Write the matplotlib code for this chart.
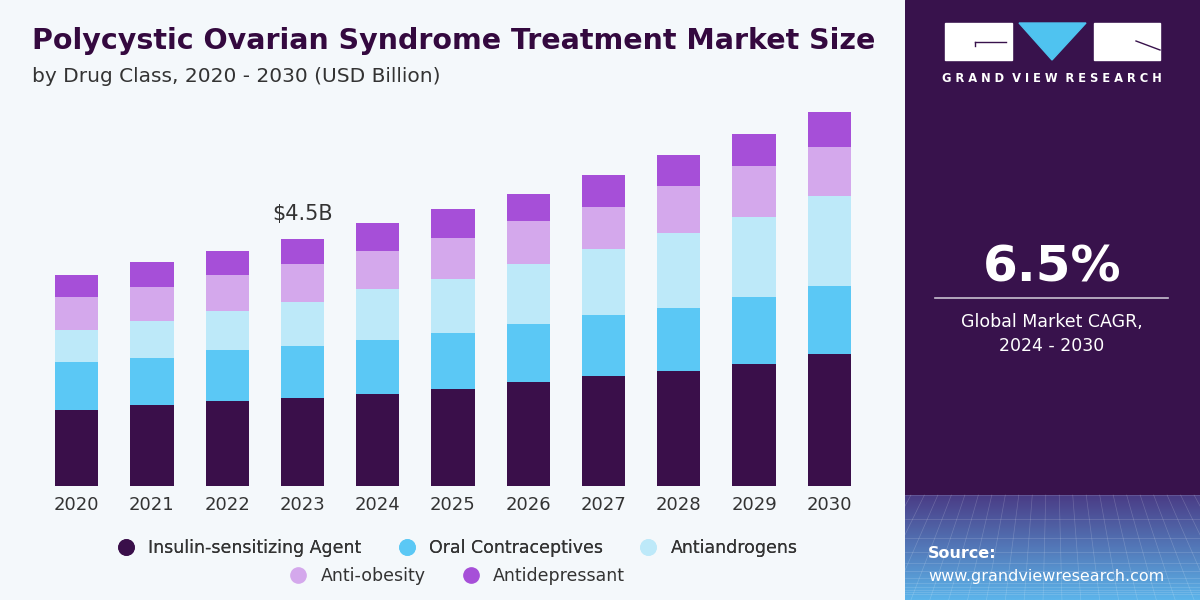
import matplotlib
matplotlib.use("Agg")
import matplotlib.pyplot as plt
from matplotlib.patches import Rectangle, Polygon
from matplotlib.lines import Line2D
import numpy as np

# ---------------------------------------------------------------------------
# Data (USD Billion)
# ---------------------------------------------------------------------------
years = ["2020", "2021", "2022", "2023", "2024", "2025",
         "2026", "2027", "2028", "2029", "2030"]
insulin = [1.38, 1.48, 1.55, 1.60, 1.68, 1.77, 1.89, 2.00, 2.09, 2.22, 2.40]
oral = [0.88, 0.86, 0.93, 0.95, 0.98, 1.02, 1.06, 1.11, 1.15, 1.22, 1.24]
antiandrogens = [0.59, 0.67, 0.71, 0.80, 0.93, 0.98, 1.09, 1.20, 1.37, 1.46, 1.64]
anti_obesity = [0.60, 0.62, 0.66, 0.69, 0.69, 0.75, 0.78, 0.78, 0.86, 0.93, 0.89]
antidepressant = [0.40, 0.45, 0.43, 0.46, 0.51, 0.53, 0.49, 0.58, 0.55, 0.58, 0.64]

series_names = ["Insulin-sensitizing Agent", "Oral Contraceptives", "Antiandrogens",
                "Anti-obesity", "Antidepressant"]
series_values = [insulin, oral, antiandrogens, anti_obesity, antidepressant]
colors = ["#3a0f4a", "#5bc8f5", "#bde9f9", "#d4a8ec", "#a64fd8"]

highlight_year = "2023"
highlight_label = "$4.5B"

BG = "#f4f8fb"
PANEL = "#38124c"

fig = plt.figure(figsize=(12, 6), dpi=100, facecolor=BG)

# ---- Right-hand panel -----------------------------------------------------
panel_x0 = 905 / 1200
pax = fig.add_axes([panel_x0, 0, 1 - panel_x0, 1])
pax.set_xlim(0, 1)
pax.set_ylim(0, 1)
pax.axis("off")
pax.add_patch(Rectangle((0, 0), 1, 1, color=PANEL, zorder=0))
# gradient at the bottom of the panel
grad_h = 105 / 600
g = np.linspace(0, 1, 100)[:, None]
top_c = np.array([0x4a, 0x3c, 0x86]) / 255
bot_c = np.array([0x5c, 0xb4, 0xea]) / 255
img = (top_c[None, None, :] * (1 - g[..., None]) + bot_c[None, None, :] * g[..., None])
img = np.repeat(img, 10, axis=1)
pax.imshow(img, extent=(0, 1, 0, grad_h), origin="upper", aspect="auto", zorder=1)
# faint grid texture
for xv in np.linspace(0.02, 0.98, 22):
    pax.plot([xv, 0.5 + (xv - 0.5) * 1.4], [grad_h, 0], color="white", lw=0.5, alpha=0.18, zorder=2)
for yv in np.geomspace(0.01, grad_h, 12):
    pax.plot([0, 1], [yv, yv], color="white", lw=0.5, alpha=0.18, zorder=2)

# logo
px = lambda x: (x - 905) / 295
py = lambda y: 1 - y / 600
pax.add_patch(Rectangle((px(945), py(60)), px(1012) - px(945), py(23) - py(60),
                        color="white", zorder=3))
pax.add_patch(Rectangle((px(1094), py(60)), px(1160) - px(1094), py(23) - py(60),
                        color="white", zorder=3))
pax.add_patch(Polygon([(px(1019), py(23)), (px(1086), py(23)), (px(1052), py(60))],
                      closed=True, color="#4fc3f0", zorder=3))
pax.plot([px(975), px(1006)], [py(42), py(42)], color=PANEL, lw=1, zorder=4)
pax.plot([px(975), px(975)], [py(42), py(46)], color=PANEL, lw=1, zorder=4)
pax.plot([px(1136), px(1160)], [py(41), py(50)], color=PANEL, lw=1, zorder=4)
pax.text(px(1052), py(78), "G R A N D  V I E W  R E S E A R C H",
         color="white", fontsize=8.3, fontweight="bold", ha="center", va="center", zorder=4)

pax.text(px(1052), py(268), "6.5%", color="white", fontsize=36, fontweight="bold",
         ha="center", va="center", zorder=4)
pax.plot([px(935), px(1168)], [py(298), py(298)], color="#c8c0d0", lw=1.2, zorder=4)
pax.text(px(1052), py(322), "Global Market CAGR,", color="white", fontsize=12.5,
         ha="center", va="center", zorder=4)
pax.text(px(1052), py(346), "2024 - 2030", color="white", fontsize=12.5,
         ha="center", va="center", zorder=4)
pax.text(px(928), py(554), "Source:", color="white", fontsize=11.5, fontweight="bold",
         ha="left", va="center", zorder=4)
pax.text(px(928), py(577), "www.grandviewresearch.com", color="white", fontsize=11.5,
         ha="left", va="center", zorder=4)

# ---- Titles ---------------------------------------------------------------
fig.text(32 / 1200, 1 - 41 / 600, "Polycystic Ovarian Syndrome Treatment Market Size",
         color="#34093f", fontsize=20.5, fontweight="heavy", ha="left", va="center")
fig.text(32 / 1200, 1 - 77 / 600, "by Drug Class, 2020 - 2030 (USD Billion)",
         color="#333333", fontsize=14.5, ha="left", va="center")

# ---- Bar chart ------------------------------------------------------------
ax = fig.add_axes([39 / 1200, 114 / 600, 828 / 1200, 386 / 600])
ax.set_facecolor("none")
x = np.arange(len(years))
bottom = np.zeros(len(years))
for name, vals, col in zip(series_names, series_values, colors):
    ax.bar(x, vals, width=0.575, bottom=bottom, color=col, label=name, zorder=2)
    bottom += np.array(vals)

hi = years.index(highlight_year)
ax.text(hi, bottom[hi] + 0.28, highlight_label, ha="center", va="bottom",
        fontsize=15, color="#333333")

ax.set_xlim(-0.5, len(years) - 0.5)
ax.set_ylim(0, 7.03)
ax.set_xticks(x)
ax.set_xticklabels(years, fontsize=13, color="#333333")
ax.tick_params(axis="x", length=0, pad=7)
ax.set_yticks([])
for s in ax.spines.values():
    s.set_visible(False)

# ---- Legend (3 + 2 rows) --------------------------------------------------
handles = [Line2D([], [], marker="o", linestyle="", markersize=11,
                  markerfacecolor=c, markeredgecolor=c) for c in colors]
leg1 = fig.legend(handles[:3], series_names[:3], loc="center",
                  bbox_to_anchor=(453 / 1200, 1 - 548 / 600), ncol=3, frameon=False,
                  fontsize=12.5, handletextpad=0.3, columnspacing=1.6,
                  labelcolor="#333333")
leg2 = fig.legend(handles[3:], series_names[3:], loc="center",
                  bbox_to_anchor=(453 / 1200, 1 - 576 / 600), ncol=2, frameon=False,
                  fontsize=12.5, handletextpad=0.3, columnspacing=1.6,
                  labelcolor="#333333")
fig.add_artist(leg1)

fig.savefig("out.png", dpi=100, facecolor=BG)
